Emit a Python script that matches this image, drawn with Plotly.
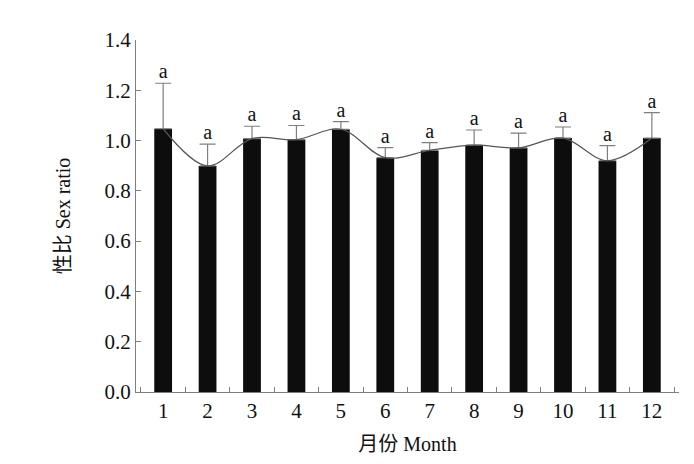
import plotly.graph_objects as go

months = ["1", "2", "3", "4", "5", "6", "7", "8", "9", "10", "11", "12"]
sex_ratio = [1.047, 0.899, 1.008, 1.004, 1.045, 0.932, 0.961, 0.982, 0.971, 1.010, 0.920, 1.010]
err_upper = [0.181, 0.087, 0.049, 0.056, 0.030, 0.040, 0.031, 0.060, 0.059, 0.044, 0.060, 0.101]
letters = ["a"] * 12
y_ticks = [0.0, 0.2, 0.4, 0.6, 0.8, 1.0, 1.2, 1.4]

FONT = "Liberation Serif, 'Noto Sans CJK SC', serif"
AXIS_COLOR = "#7f7f7f"

fig = go.Figure()
fig.add_trace(go.Bar(
    x=months, y=sex_ratio, width=0.4,
    marker=dict(color="#0d0d0d", line=dict(width=0)),
    error_y=dict(type="data", array=err_upper, arrayminus=[0] * 12, symmetric=False,
                 color=AXIS_COLOR, thickness=1.2, width=8),
    showlegend=False,
))
fig.add_trace(go.Scatter(
    x=months, y=sex_ratio, mode="lines",
    line=dict(color="#555555", width=1.2, shape="spline", smoothing=1.0),
    showlegend=False,
))
fig.add_trace(go.Scatter(
    x=months, y=[v + e for v, e in zip(sex_ratio, err_upper)], mode="text",
    text=letters, textposition="top center",
    textfont=dict(family=FONT, size=20, color="#111111"),
    showlegend=False,
))

fig.update_layout(
    width=686, height=456,
    margin=dict(l=128, r=15, t=32, b=72),
    plot_bgcolor="white", paper_bgcolor="white",
    font=dict(family=FONT, size=21, color="#111111"),
    xaxis=dict(
        type="category", tickson="boundaries", ticks="inside", ticklen=5,
        tickcolor=AXIS_COLOR, showline=True, linecolor=AXIS_COLOR, linewidth=1.2,
        showgrid=False, zeroline=False,
        title=dict(text="月份 Month", font=dict(family=FONT, size=20), standoff=14),
        tickfont=dict(family=FONT, size=21),
    ),
    yaxis=dict(
        range=[0, 1.4], tickvals=y_ticks, ticktext=[f"{v:.1f}" for v in y_ticks],
        ticks="inside", ticklen=5, tickcolor=AXIS_COLOR,
        showline=True, linecolor=AXIS_COLOR, linewidth=1.2,
        showgrid=False, zeroline=False,
        title=dict(text="性比 Sex ratio", font=dict(family=FONT, size=20), standoff=28),
        tickfont=dict(family=FONT, size=21),
    ),
)

fig.write_html("out.html")
